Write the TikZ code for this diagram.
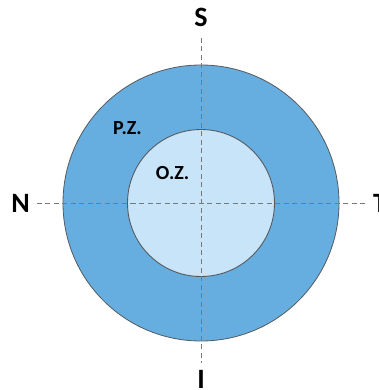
\documentclass[tikz,border=0pt]{standalone}
\usepackage{fontspec}
\setmainfont{Carlito}
\usepackage{tikz}
\definecolor{pzblue}{RGB}{103,174,224}
\definecolor{ozblue}{RGB}{199,228,249}
\definecolor{rimgray}{RGB}{85,90,95}
\definecolor{axisgray}{RGB}{120,120,120}

\begin{document}
\begin{tikzpicture} [x = 1pt, y = 1pt, font = \bfseries\fontsize{28}{30}\selectfont,
	zone/.style = {font = \bfseries\fontsize{20}{22}\selectfont}]
	\useasboundingbox (-201,-187) rectangle (178,203);
	\fill [white] (-201,-187) rectangle (178,203);
	\draw [rimgray, line width = 0.8pt, fill = pzblue] (0,0) circle (138);
	\draw [rimgray, line width = 0.9pt, fill = ozblue] (0,0) circle (73.5);
	%axes
	\coordinate (top) at (0,165);
	\coordinate (bottom) at (0,-160);
	\coordinate (left) at (-164,0);
	\coordinate (right) at (166,0);
	\draw [axisgray, line width = 0.9pt, dash pattern = on 5pt off 3.5pt] (top) -- (bottom);
	\draw [axisgray, line width = 0.9pt, dash pattern = on 5pt off 3.5pt] (left) -- (right);
	\node (S) at (0,186) {S};
	\node [anchor = base, inner sep = 0pt] (I) at (0,-185.5) {I};
	\node (N) at (-180.5,0) {N};
	\node [anchor = west, inner sep = 0pt] (T) at (172,0) {T};
	\node [zone] (PZ) at (-73.5,75) {P.Z.};
	\node [zone] (OZ) at (-28.5,29.5) {O.Z.};
\end{tikzpicture}
\end{document}
